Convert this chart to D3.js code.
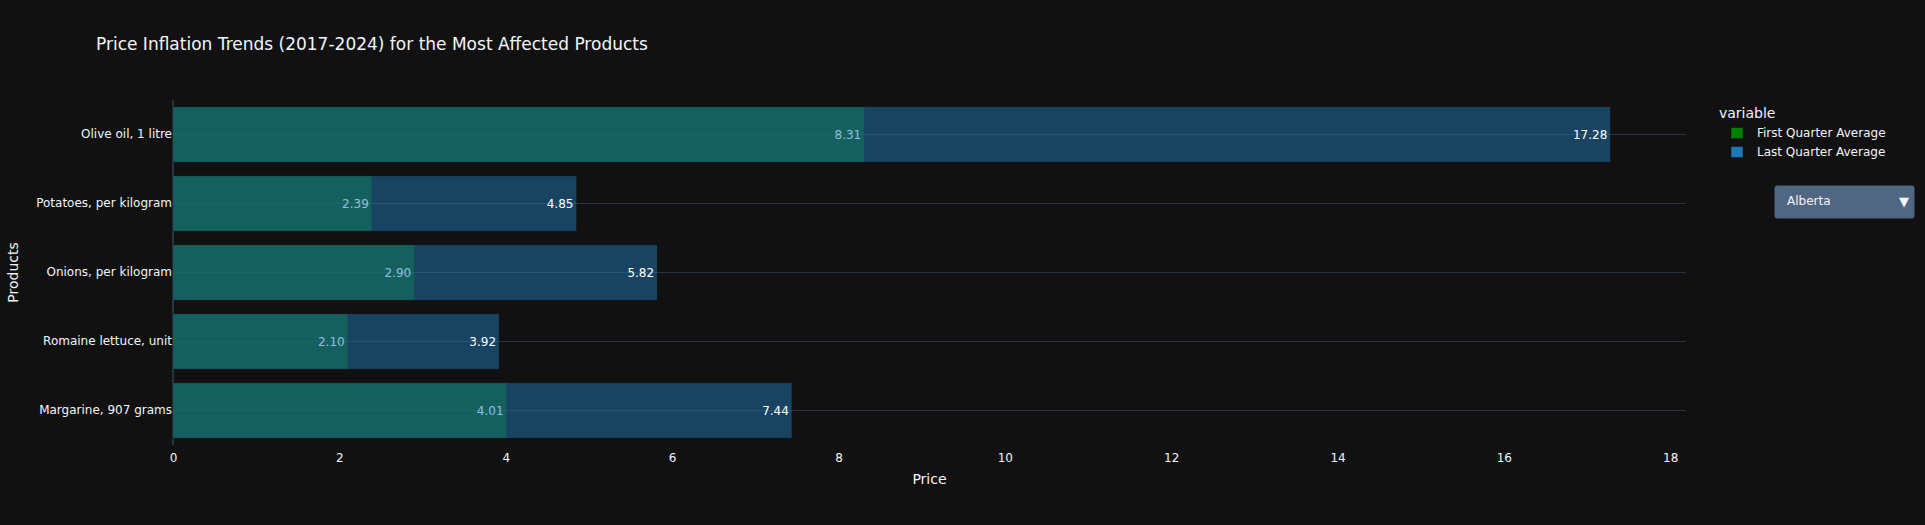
<!DOCTYPE html>
<html>
<head>
<meta charset="utf-8">
<script src="https://cdn.jsdelivr.net/npm/d3@7"></script>
<style>
  html, body { margin: 0; padding: 0; background: #111111; }
  svg { display: block; }
  text { font-family: "DejaVu Sans", verdana, arial, sans-serif; }
</style>
</head>
<body>
<svg id="chart" width="1925" height="525"></svg>
<script>
// Data (top-to-bottom display order)
const categories = ["Olive oil, 1 litre", "Potatoes, per kilogram", "Onions, per kilogram", "Romaine lettuce, unit", "Margarine, 907 grams"];
const firstQuarterAverage = [8.31, 2.39, 2.90, 2.10, 4.01];
const lastQuarterAverage = [17.28, 4.85, 5.82, 3.92, 7.44];
const seriesNames = ["First Quarter Average", "Last Quarter Average"];
const seriesColors = ["#008000", "#1f77b4"];
const xTicks = [0, 2, 4, 6, 8, 10, 12, 14, 16, 18];
const regionOptions = ["Alberta"];

const W = 1925, H = 525;
const margin = { top: 100, right: 239, bottom: 80, left: 173 };
const pw = W - margin.left - margin.right;
const ph = H - margin.top - margin.bottom;
const fontColor = "#f2f5fa";
const gridColor = "#283442";
const FONT = '"DejaVu Sans", verdana, arial, sans-serif';

const svg = d3.select("#chart");
svg.append("rect").attr("width", W).attr("height", H).attr("fill", "#111111");

const xMax = d3.max(lastQuarterAverage.concat(firstQuarterAverage)) / 0.95;
const x = d3.scaleLinear().domain([0, xMax]).range([0, pw]);
const y = d3.scaleBand().domain(categories).range([0, ph]).paddingInner(0.2).paddingOuter(0.1);

const g = svg.append("g").attr("transform", `translate(${margin.left},${margin.top})`);

// horizontal gridlines at category centers
g.append("g").selectAll("line").data(categories).join("line")
  .attr("x1", 0).attr("x2", pw)
  .attr("y1", d => y(d) + y.bandwidth() / 2)
  .attr("y2", d => y(d) + y.bandwidth() / 2)
  .attr("stroke", gridColor).attr("stroke-width", 1);

// zero line
g.append("line").attr("x1", x(0)).attr("x2", x(0)).attr("y1", 0).attr("y2", ph)
  .attr("stroke", gridColor).attr("stroke-width", 2);

const series = [firstQuarterAverage, lastQuarterAverage];
series.forEach((vals, si) => {
  const sg = g.append("g");
  const data = categories.map((c, i) => ({ c, v: vals[i] }));
  sg.selectAll("rect").data(data).join("rect")
    .attr("x", x(0))
    .attr("y", d => y(d.c))
    .attr("width", d => x(d.v) - x(0))
    .attr("height", y.bandwidth())
    .attr("fill", seriesColors[si])
    .attr("fill-opacity", 0.5)
    .attr("stroke", "#111111").attr("stroke-opacity", 0.5).attr("stroke-width", 0.5);
  sg.selectAll("text").data(data).join("text")
    .attr("x", d => x(d.v) - 3)
    .attr("y", d => y(d.c) + y.bandwidth() / 2)
    .attr("text-anchor", "end")
    .attr("dominant-baseline", "central")
    .attr("font-size", 12)
    .attr("fill", "#ffffff")
    .text(d => d.v.toFixed(2));
});

// x axis
const xAxis = g.append("g").attr("transform", `translate(0,${ph})`)
  .call(d3.axisBottom(x).tickValues(xTicks).tickSize(0).tickPadding(8).tickFormat(d3.format("d")));
xAxis.select(".domain").remove();
xAxis.selectAll("text").attr("font-size", 12).attr("fill", fontColor).attr("font-family", FONT);

// y axis
const yAxis = g.append("g")
  .call(d3.axisLeft(y).tickSize(0).tickPadding(1));
yAxis.select(".domain").remove();
yAxis.selectAll("text").attr("font-size", 12).attr("fill", fontColor).attr("font-family", FONT);

// axis titles
svg.append("text").attr("x", margin.left + pw / 2).attr("y", 479)
  .attr("text-anchor", "middle").attr("dominant-baseline", "central")
  .attr("font-size", 14).attr("fill", fontColor).text("Price");
svg.append("text")
  .attr("transform", `translate(13,${margin.top + ph / 2}) rotate(-90)`)
  .attr("text-anchor", "middle").attr("dominant-baseline", "central")
  .attr("font-size", 14).attr("fill", fontColor).text("Products");

// title
svg.append("text").attr("x", 96).attr("y", 44)
  .attr("dominant-baseline", "central")
  .attr("font-size", 17).attr("fill", fontColor)
  .text("Price Inflation Trends (2017-2024) for the Most Affected Products");

// legend
const lg = svg.append("g");
lg.append("text").attr("x", 1719).attr("y", 113).attr("dominant-baseline", "central")
  .attr("font-size", 14).attr("fill", fontColor).text("variable");
seriesNames.forEach((name, i) => {
  const cy = 133 + i * 19;
  lg.append("rect").attr("x", 1731).attr("y", cy - 5.5).attr("width", 12).attr("height", 11)
    .attr("fill", seriesColors[i]).attr("stroke", "#111111").attr("stroke-width", 0.5);
  lg.append("text").attr("x", 1757).attr("y", cy).attr("dominant-baseline", "central")
    .attr("font-size", 12).attr("fill", fontColor).text(name);
});

// dropdown
const dd = svg.append("g");
dd.append("rect").attr("x", 1775).attr("y", 186).attr("width", 139).attr("height", 32)
  .attr("rx", 2).attr("fill", "#506784").attr("stroke", "#506784");
dd.append("text").attr("x", 1787).attr("y", 201).attr("dominant-baseline", "central")
  .attr("font-size", 12).attr("fill", fontColor).text(regionOptions[0]);
dd.append("text").attr("x", 1904).attr("y", 201).attr("text-anchor", "middle")
  .attr("dominant-baseline", "central").attr("font-size", 13).attr("fill", fontColor).text("▼");
</script>
</body>
</html>
